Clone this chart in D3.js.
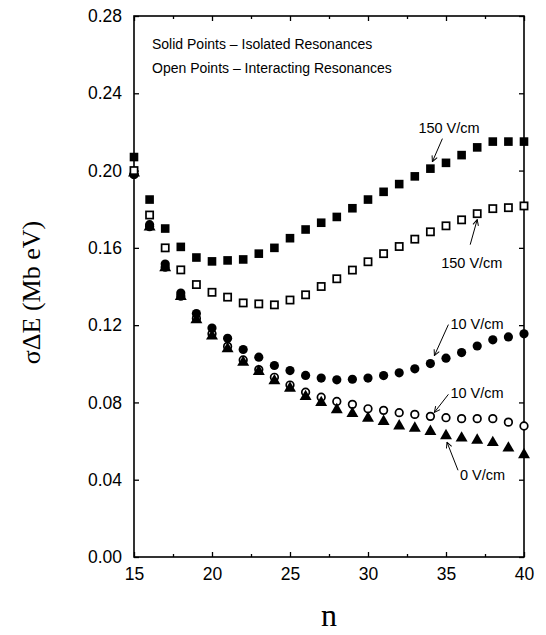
<!DOCTYPE html>
<html>
<head>
<meta charset="utf-8">
<script src="https://cdn.jsdelivr.net/npm/d3@7/dist/d3.min.js"></script>
<style>
  body { margin: 0; background: #fff; }
  text { font-family: "Liberation Sans", Arial, sans-serif; }
</style>
</head>
<body>
<div id="chart"></div>
<script>
// principal quantum number n
var nVals = [15, 16, 17, 18, 19, 20, 21, 22, 23, 24, 25, 26, 27, 28, 29, 30, 31, 32, 33, 34, 35, 36, 37, 38, 39, 40];

// 150 V/cm, isolated resonances (solid squares)
var sq150Iso = [0.207, 0.185, 0.170, 0.1605, 0.155, 0.153, 0.1535, 0.154, 0.157, 0.160, 0.165, 0.1695, 0.173, 0.176, 0.1805, 0.185, 0.189, 0.193, 0.197, 0.201, 0.204, 0.208, 0.212, 0.215, 0.215, 0.215];
// 150 V/cm, interacting resonances (open squares)
var sq150Int = [0.200, 0.177, 0.160, 0.1486, 0.141, 0.137, 0.1345, 0.1315, 0.131, 0.1305, 0.133, 0.1357, 0.140, 0.144, 0.1485, 0.1528, 0.157, 0.1607, 0.1645, 0.1683, 0.1714, 0.1745, 0.1777, 0.1803, 0.1808, 0.1817];
// 10 V/cm, isolated (solid circles)
var circ10Iso = [0.198, 0.172, 0.1516, 0.1366, 0.126, 0.1185, 0.1132, 0.1074, 0.1034, 0.0991, 0.0965, 0.094, 0.0926, 0.0917, 0.092, 0.0926, 0.0939, 0.0953, 0.0974, 0.1001, 0.1029, 0.1058, 0.1092, 0.1124, 0.1139, 0.1155];
// 10 V/cm, interacting (open circles)
var circ10Int = [0.198, 0.171, 0.150, 0.135, 0.1235, 0.1155, 0.109, 0.102, 0.097, 0.093, 0.089, 0.0853, 0.0827, 0.0805, 0.079, 0.0767, 0.0759, 0.0747, 0.0738, 0.0728, 0.0721, 0.0716, 0.0716, 0.0716, 0.0698, 0.0678];
// 0 V/cm (solid triangles)
var tri0 = [0.199, 0.171, 0.150, 0.135, 0.123, 0.1146, 0.108, 0.101, 0.0963, 0.0914, 0.0876, 0.0833, 0.0802, 0.0765, 0.0745, 0.0721, 0.0704, 0.0681, 0.0669, 0.0652, 0.063, 0.0618, 0.0607, 0.0595, 0.0566, 0.0532];

var xTicks = [15, 20, 25, 30, 35, 40];
var xMinor = [17.5, 22.5, 27.5, 32.5, 37.5];
var yTicks = [0.00, 0.04, 0.08, 0.12, 0.16, 0.20, 0.24, 0.28];

var notes = ["Solid Points \u2013 Isolated Resonances", "Open Points \u2013 Interacting Resonances"];

// set the dimensions and margins of the graph
var W = 546, H = 635;
var margin = { top: 16, right: 22, bottom: 78, left: 134 },
    width = W - margin.left - margin.right,
    height = H - margin.top - margin.bottom;

var svg = d3.select("#chart")
    .append("svg")
    .attr("width", W)
    .attr("height", H);

svg.append("defs").append("marker")
    .attr("id", "arr")
    .attr("viewBox", "0 0 10 10")
    .attr("refX", 9).attr("refY", 5)
    .attr("markerWidth", 7).attr("markerHeight", 7)
    .attr("orient", "auto")
    .append("path")
    .attr("d", "M1,1 L9,5 L1,9")
    .attr("fill", "none")
    .attr("stroke", "black")
    .attr("stroke-width", 1.4);

var g = svg.append("g")
    .attr("transform", "translate(" + margin.left + "," + margin.top + ")");

var x = d3.scaleLinear().domain([15, 40]).range([0, width]);
var y = d3.scaleLinear().domain([0, 0.28]).range([height, 0]);

// frame
g.append("rect")
    .attr("width", width).attr("height", height)
    .attr("fill", "none").attr("stroke", "black").attr("stroke-width", 1.6);

// bottom axis labels + inward ticks on all four sides
g.append("g").attr("transform", "translate(0," + height + ")")
    .call(d3.axisBottom(x).tickValues(xTicks).tickSize(-5).tickPadding(11).tickFormat(d3.format("d")));
g.append("g")
    .call(d3.axisTop(x).tickValues(xTicks).tickSize(-5).tickFormat(""));
g.append("g").attr("transform", "translate(0," + height + ")")
    .call(d3.axisBottom(x).tickValues(xMinor).tickSize(-3).tickFormat(""));
g.append("g")
    .call(d3.axisTop(x).tickValues(xMinor).tickSize(-3).tickFormat(""));

g.append("g")
    .call(d3.axisLeft(y).tickValues(yTicks).tickSize(-5).tickPadding(12).tickFormat(d3.format(".2f")));
g.append("g").attr("transform", "translate(" + width + ",0)")
    .call(d3.axisRight(y).tickValues(yTicks).tickSize(-5).tickFormat(""));

g.selectAll(".domain").remove();
g.selectAll(".tick line").attr("stroke", "black").attr("stroke-width", 1.3);
g.selectAll(".tick text")
    .attr("fill", "black")
    .style("font-family", "'Liberation Sans', Arial, sans-serif")
    .style("font-size", "17.5px");

// axis titles
svg.append("text")
    .attr("transform", "translate(40," + (margin.top + height / 2 + 6) + ") rotate(-90)")
    .attr("text-anchor", "middle")
    .style("font-family", "'Liberation Serif', 'Times New Roman', serif")
    .style("font-size", "26px")
    .text("\u03C3\u0394E (Mb eV)");

svg.append("text")
    .attr("x", margin.left + width / 2)
    .attr("y", 626)
    .attr("text-anchor", "middle")
    .style("font-family", "'Liberation Serif', 'Times New Roman', serif")
    .style("font-size", "32px")
    .text("n");

// notes in the upper left of the frame
g.selectAll(".note")
    .data(notes)
    .enter()
    .append("text")
    .attr("x", 18)
    .attr("y", function (d, i) { return 33 + i * 24; })
    .style("font-size", "14px")
    .text(function (d) { return d; });

function pts(vals) {
    return vals.map(function (v, i) { return { n: nVals[i], v: v }; });
}

// open circles (drawn first, underneath)
g.selectAll(".oc")
    .data(pts(circ10Int))
    .enter().append("circle")
    .attr("cx", function (d) { return x(d.n); })
    .attr("cy", function (d) { return y(d.v); })
    .attr("r", 3.8)
    .attr("fill", "white").attr("stroke", "black").attr("stroke-width", 1.7);

// triangles
var tri = d3.symbol().type(d3.symbolTriangle).size(62);
g.selectAll(".tri")
    .data(pts(tri0))
    .enter().append("path")
    .attr("d", tri)
    .attr("transform", function (d) { return "translate(" + x(d.n) + "," + (y(d.v) + 0.5) + ")"; })
    .attr("fill", "black");

// solid circles
g.selectAll(".fc")
    .data(pts(circ10Iso))
    .enter().append("circle")
    .attr("cx", function (d) { return x(d.n); })
    .attr("cy", function (d) { return y(d.v); })
    .attr("r", 4.6)
    .attr("fill", "black");

// open squares
g.selectAll(".os")
    .data(pts(sq150Int))
    .enter().append("rect")
    .attr("x", function (d) { return x(d.n) - 3.6; })
    .attr("y", function (d) { return y(d.v) - 3.6; })
    .attr("width", 7.2).attr("height", 7.2)
    .attr("fill", "white").attr("stroke", "black").attr("stroke-width", 1.7);

// solid squares
g.selectAll(".fs")
    .data(pts(sq150Iso))
    .enter().append("rect")
    .attr("x", function (d) { return x(d.n) - 4.3; })
    .attr("y", function (d) { return y(d.v) - 4.3; })
    .attr("width", 8.6).attr("height", 8.6)
    .attr("fill", "black");

// field-strength labels with arrows: label pinned relative to the point it marks
var labels = [
    { text: "150 V/cm", vals: sq150Iso, n: 34, tx: -12, ty: -36, ax0: 12, ay0: -30, ax1: 2, ay1: -7 },
    { text: "150 V/cm", vals: sq150Int, n: 37, tx: -36, ty: 54, ax0: -7, ay0: 31, ax1: 0, ay1: 6 },
    { text: "10 V/cm", vals: circ10Iso, n: 34, tx: 20, ty: -35, ax0: 18, ay0: -39, ax1: 4, ay1: -8 },
    { text: "10 V/cm", vals: circ10Int, n: 34, tx: 20, ty: -18, ax0: 18, ay0: -22, ax1: 4, ay1: -4 },
    { text: "0 V/cm", vals: tri0, n: 35, tx: 14, ty: 45, ax0: 12, ay0: 35, ax1: 1, ay1: 7 }
];

labels.forEach(function (l) {
    var i = nVals.indexOf(l.n);
    var px = x(l.n), py = y(l.vals[i]);
    g.append("line")
        .attr("x1", px + l.ax0).attr("y1", py + l.ay0)
        .attr("x2", px + l.ax1).attr("y2", py + l.ay1)
        .attr("stroke", "black").attr("stroke-width", 1)
        .attr("marker-end", "url(#arr)");
    g.append("text")
        .attr("x", px + l.tx).attr("y", py + l.ty)
        .style("font-size", "14.5px")
        .text(l.text);
});
</script>
</body>
</html>
